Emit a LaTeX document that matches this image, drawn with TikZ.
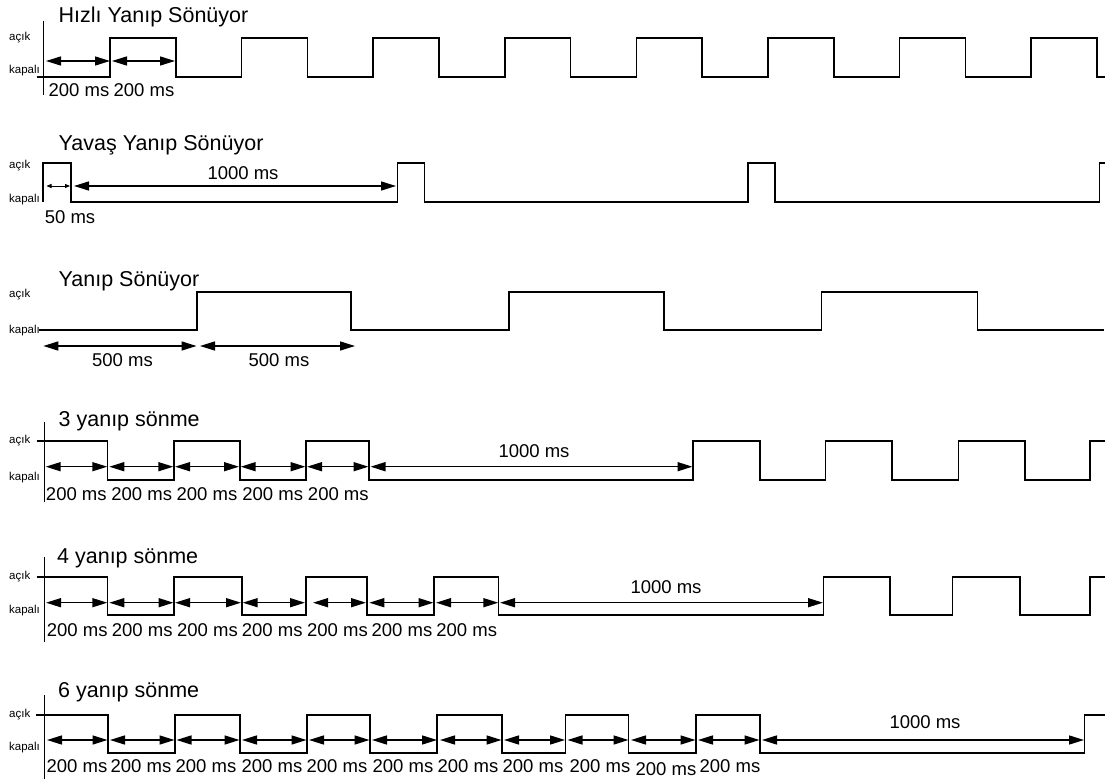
\documentclass[tikz,border=0pt]{standalone}
\usepackage{fontspec}
\setmainfont{Liberation Sans}
\usetikzlibrary{arrows.meta}
\begin{document}
\begin{tikzpicture}[x=1pt,y=-1pt,
  wave/.style={line width=1.6pt, line join=miter},
  axisline/.style={line width=1.6pt},
  dimarrow/.style={{Triangle[length=15pt,width=9pt]}-{Triangle[length=15pt,width=9pt]}, line width=1.5pt},
  tinyarrow/.style={{Triangle[length=5pt,width=4pt]}-{Triangle[length=5pt,width=4pt]}, line width=0.8pt},
  title/.style={anchor=base west, inner sep=0pt, font=\fontsize{21.5}{25}\selectfont},
  lvl/.style={anchor=west, inner sep=0pt, font=\fontsize{11.5}{13}\selectfont},
  ms/.style={anchor=base, inner sep=0pt, font=\fontsize{18.5}{21}\selectfont},
]
\useasboundingbox (0,0) rectangle (1109,781);

% ---------- Panel 1: Hizli ----------
\node[title] (t1) at (58.5,23) {Hızlı Yanıp Sönüyor};
\node[lvl] (a1) at (9,38) {açık};
\node[lvl] (k1) at (9,71) {kapalı};
\draw[axisline] (43.5,21) -- (43.5,95);
\draw[wave] (37,77) -| (110,38) -| (175.8,77) -| (241.6,38) -| (307.4,77) -| (373.2,38)
  -| (439,77) -| (504.8,38) -| (570.6,77) -| (636.4,38) -| (702.2,77) -| (768,38)
  -| (833.8,77) -| (899.6,38) -| (965.4,77) -| (1031.2,38) -| (1097,77) -- (1105,77);
\draw[dimarrow] (46,61) -- (110,61);
\draw[dimarrow] (112,61) -- (175,61);
\node[ms] (m11) at (79,96.5) {200 ms};
\node[ms] (m12) at (144,96.5) {200 ms};

% ---------- Panel 2: Yavas ----------
\node[title] (t2) at (58.5,151) {Yavaş Yanıp Sönüyor};
\node[lvl] (a2) at (9,166) {açık};
\node[lvl] (k2) at (9,200) {kapalı};
\draw[wave] (43,202) |- (71,163) -- (71,202) -| (397.3,163) -| (424.4,202)
  -| (747.8,163) -| (774.9,202) -| (1099.6,163) -- (1105,163);
\draw[tinyarrow] (46.5,186) -- (70,186);
\draw[dimarrow] (74,186) -- (396,186);
\node[ms] (l2) at (243,179.3) {1000 ms};
\node[ms] (m21) at (70,223) {50 ms};

% ---------- Panel 3: Yanip Sonuyor ----------
\node[title] (t3) at (58.5,286) {Yanıp Sönüyor};
\node[lvl] (a3) at (9,295) {açık};
\node[lvl] (k3) at (9,331) {kapalı};
\draw[wave] (39,330) -| (196.7,291.7) -| (351,330) -| (509,291.7) -| (663.8,330)
  -| (821.5,291.7) -| (977.3,330) -- (1104,330);
\draw[dimarrow] (43.3,346) -- (196.5,346);
\draw[dimarrow] (200,346) -- (355,346);
\node[ms] (m31) at (122.5,366) {500 ms};
\node[ms] (m32) at (279,366) {500 ms};

% ---------- Panel 4: 3 yanip sonme ----------
\node[title] (t4) at (58.5,426) {3 yanıp sönme};
\node[lvl] (a4) at (9,440.7) {açık};
\node[lvl] (k4) at (9,478) {kapalı};
\draw[axisline] (44.3,421.7) -- (44.3,501.7);
\draw[wave] (36.7,440.7) -| (107.3,480) -| (174,440.7) -| (239.8,480) -| (306,440.7)
  -| (369,480) -| (693,440.7) -| (760,480) -| (825.5,440.7) -| (891.7,480)
  -| (958.5,440.7) -| (1025,480) -| (1090,440.7) -- (1105,440.7);
\foreach \a/\b in {45.7/107.3, 109.3/173.3, 175/239, 240.7/305.5, 307/368.5, 370.5/692.5}
  \draw[dimarrow] (\a,466.7) -- (\b,466.7);
\foreach \c [count=\i] in {76.3, 141.7, 207, 272.7, 338.3}
  \node[ms] (m4\i) at (\c,500) {200 ms};
\node[ms] (l4) at (534,457) {1000 ms};

% ---------- Panel 5: 4 yanip sonme ----------
\node[title] (t5) at (57,563.3) {4 yanıp sönme};
\node[lvl] (a5) at (9,577) {açık};
\node[lvl] (k5) at (9,611) {kapalı};
\draw[axisline] (44.3,557) -- (44.3,642);
\draw[wave] (36.7,577) -| (107.3,615) -| (174,577) -| (241.7,615) -| (306,577)
  -| (366.7,615) -| (434,577) -| (498.3,615) -| (823.5,577) -| (890,615)
  -| (952.6,577) -| (1020,615) -| (1089.7,577) -- (1105,577);
\foreach \a/\b in {46/107.3, 109.3/173.5, 175/241, 242.7/305, 313/366, 369.3/433.5, 436/498.3, 500/823}
  \draw[dimarrow] (\a,602.7) -- (\b,602.7);
\foreach \c [count=\i] in {77.2, 142.2, 207.5, 272.2, 337.5, 402, 466.7}
  \node[ms] (m5\i) at (\c,636.7) {200 ms};
\node[ms] (l5) at (666,593) {1000 ms};

% ---------- Panel 6: 6 yanip sonme ----------
\node[title] (t6) at (58,697) {6 yanıp sönme};
\node[lvl] (a6) at (9,715) {açık};
\node[lvl] (k6) at (9,748) {kapalı};
\draw[axisline] (44.5,695) -- (44.5,779);
\draw[wave] (36,715) -| (107.7,753) -| (174.8,715) -| (239.8,753) -| (306.9,715)
  -| (369.7,753) -| (437.2,715) -| (501.8,753) -| (565.5,715) -| (628.6,753)
  -| (695.7,715) -| (760,753) -| (1084.5,715) -- (1105,715);
\foreach \a/\b in {47/107.5, 110/174.5, 176.5/239.5, 242/306.5, 309/369.5, 372/437, 440/501.5, 504/565, 567.5/628.5, 631/695.5, 698/759.5, 762/1084}
  \draw[dimarrow] (\a,740) -- (\b,740);
\foreach \c [count=\i] in {77, 141, 206, 272, 337, 403, 468, 533, 600}
  \node[ms] (m6\i) at (\c,772) {200 ms};
\node[ms] (m6x) at (666,775) {200 ms};
\node[ms] (m6y) at (730,772) {200 ms};
\node[ms] (l6) at (925,728) {1000 ms};
\end{tikzpicture}
\end{document}
